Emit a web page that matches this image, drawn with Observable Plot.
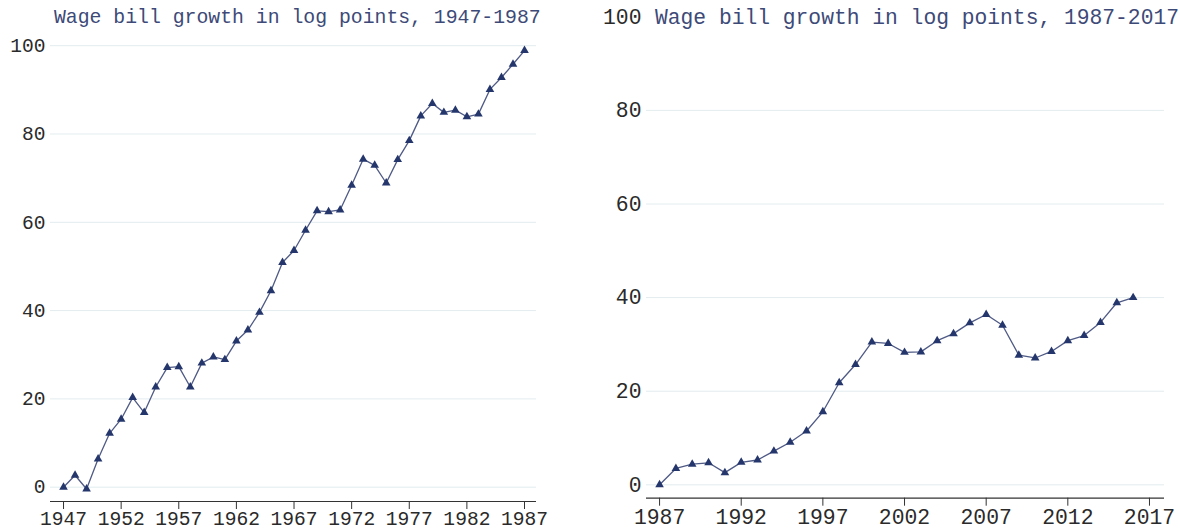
<!DOCTYPE html>
<html>
<head>
<meta charset="utf-8">
<script src="https://cdn.jsdelivr.net/npm/d3@7"></script>
<script src="https://cdn.jsdelivr.net/npm/@observablehq/plot@0.6"></script>
<style>
  html, body { margin: 0; padding: 0; background: #fff; }
  #wrap { position: relative; width: 1180px; height: 531px; overflow: hidden; }
  .panel { position: absolute; top: 0; }
  .title { position: absolute; top: 0; white-space: pre; color: #3d4a78;
           font-family: "Courier New", Courier, "Liberation Mono", monospace; background: #fff; }
</style>
</head>
<body>
<div id="wrap"></div>
<script>
// ---- data ----
const titleLeft = "Wage bill growth in log points, 1947-1987";
const titleRight = "Wage bill growth in log points, 1987-2017";
const startLeft = 1947;
const valuesLeft = [0, 2.7, -0.4, 6.4, 12.2, 15.4, 20.3, 16.9, 22.7, 27.1,
  27.3, 22.7, 28.1, 29.5, 28.9, 33.1, 35.6, 39.6, 44.5, 50.9,
  53.6, 58.2, 62.6, 62.4, 62.8, 68.4, 74.3, 72.9, 68.9, 74.2,
  78.5, 84.1, 86.9, 84.9, 85.4, 83.9, 84.5, 90.1, 92.8, 95.8, 98.9];
const startRight = 1987;
const valuesRight = [0, 3.5, 4.4, 4.7, 2.6, 4.8, 5.3, 7.2, 9.1, 11.5,
  15.6, 21.8, 25.7, 30.5, 30.2, 28.3, 28.4, 30.8, 32.3, 34.6,
  36.4, 34.1, 27.7, 27.1, 28.5, 30.8, 31.9, 34.7, 38.9, 40.0];
const xTicksLeft = [1947, 1952, 1957, 1962, 1967, 1972, 1977, 1982, 1987];
const xTicksRight = [1987, 1992, 1997, 2002, 2007, 2012, 2017];
const yTicks = [0, 20, 40, 60, 80, 100];
const gridRight = [0, 20, 40, 60, 80];

const tableLeft = valuesLeft.map((v, i) => ({year: startLeft + i, value: v}));
const tableRight = valuesRight.map((v, i) => ({year: startRight + i, value: v}));

const FONT = '"Courier New", Courier, "Liberation Mono", monospace';
const LINE = "#4f5a85";
const MARK = "#24366c";
const GRID = "#e3ecef";

function panel(opts) {
  return Plot.plot({
    width: opts.width, height: 531,
    marginLeft: opts.ml, marginRight: opts.mr, marginTop: opts.mt, marginBottom: opts.mb,
    style: {fontFamily: FONT, fontSize: opts.fs + "px", color: "#2a2a2a", background: "transparent", overflow: "visible"},
    x: {domain: opts.xd},
    y: {domain: opts.yd},
    marks: [
      Plot.gridY(opts.grid, {stroke: GRID, strokeOpacity: 1, strokeWidth: 1}),
      Plot.axisY(yTicks, {tickSize: 0, tickPadding: 5, label: null, fill: "#2a2a2a"}),
      Plot.axisX(opts.xt, {tickSize: opts.ts, tickPadding: opts.tp, tickFormat: "d", label: null, stroke: "#333", fill: "#2a2a2a"}),
      Plot.ruleY([opts.yd[0]], {stroke: "#333", strokeWidth: 1.2}),
      Plot.line(opts.data, {x: "year", y: "value", stroke: LINE, strokeWidth: 1.3}),
      Plot.dot(opts.data, {x: "year", y: "value", symbol: "triangle", r: 3.2, fill: MARK, stroke: "none"})
    ]
  });
}

const wrap = document.getElementById("wrap");

const left = panel({width: 560, ml: 50, mr: 24, mt: 45.2, mb: 30, fs: 19.6, tp: 1.5,
  xd: [1945.87, 1988.04], yd: [-3.24, 100], xt: xTicksLeft, grid: yTicks, ts: 8, data: tableLeft});
left.classList.add("panel");
left.style.left = "0px";
wrap.appendChild(left);

const right = panel({width: 620, ml: 86, mr: 16, mt: 16.3, mb: 33.3, fs: 21.4, tp: 2.5,
  xd: [1986.2, 2017.92], yd: [-2.86, 100], xt: xTicksRight, grid: gridRight, ts: 8, data: tableRight});
right.classList.add("panel");
right.style.left = "560px";
wrap.appendChild(right);

const t1 = document.createElement("div");
t1.className = "title";
t1.textContent = titleLeft;
t1.style.left = "54px";
t1.style.fontSize = "19.8px";
t1.style.lineHeight = "36px";
t1.style.background = "transparent";
wrap.appendChild(t1);

const t2 = document.createElement("div");
t2.className = "title";
t2.textContent = titleRight;
t2.style.left = "655px";
t2.style.fontSize = "21.3px";
t2.style.lineHeight = "36px";
wrap.appendChild(t2);
</script>
</body>
</html>
